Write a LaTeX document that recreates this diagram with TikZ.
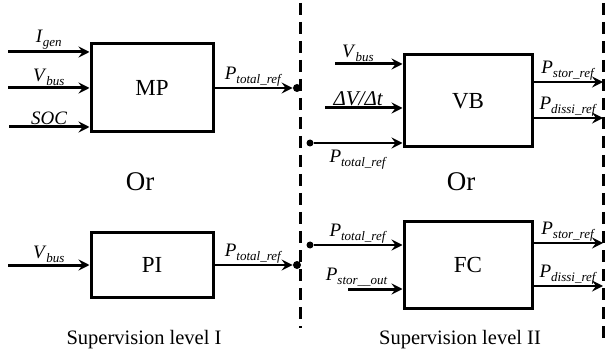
\documentclass[tikz,border=0pt]{standalone}
\usepackage{fontspec}
\setmainfont{Liberation Serif}
\usetikzlibrary{arrows.meta}
\newcommand{\sig}[2]{\textit{#1}\raisebox{-4pt}{\fontsize{13}{14}\selectfont\textit{#2}}}
\begin{document}
\begin{tikzpicture}[x=1pt, y=-1pt, thick,
  box/.style={draw, line width=3pt, minimum width=128pt, inner sep=0pt, font=\fontsize{23}{26}\selectfont},
  lbl/.style={font=\fontsize{19}{21}\selectfont, inner sep=1pt},
  fat/.style={line width=3pt, -{Stealth[length=11pt, width=11pt, inset=4pt]}},
  slim/.style={line width=2pt, -{Stealth[length=11pt, width=11pt, inset=4pt]}},
  sep/.style={line width=3pt, dash pattern=on 12pt off 7pt},
  dot/.style={circle, fill, inner sep=0pt, minimum size=#1},
  dot/.default=8pt]
\useasboundingbox (0,0) rectangle (605,358);
\coordinate (S_0_0) at (300,3);
\coordinate (S_0_1) at (300,328);
\draw[sep] (S_0_0) -- (S_0_1);
\coordinate (S_1_0) at (603,3);
\coordinate (S_1_1) at (603,340);
\draw[sep] (S_1_0) -- (S_1_1);
\node[box, minimum width=122pt, minimum height=88pt] (MP) at (152,88) {MP};
\coordinate (I_0_0) at (8,52);
\draw[fat] (I_0_0) -- (I_0_0 -| MP.west) node[lbl, midway, above] {\sig{I}{gen}};
\coordinate (I_0_1) at (8,88);
\draw[fat] (I_0_1) -- (I_0_1 -| MP.west) node[lbl, midway, above] {\sig{V}{bus}};
\coordinate (I_0_2) at (9,127);
\draw[fat] (I_0_2) -- (I_0_2 -| MP.west) node[lbl, midway, above] {\textit{SOC}};
\node[dot] (D_0) at (297,88) {};
\draw[slim] (MP.east) -- (D_0.west) node[lbl, midway, above] {\sig{P}{total\_ref}};
\node[font=\fontsize{27}{29}\selectfont] (Or_0) at (140,182) {Or};
\node[box, minimum width=122pt, minimum height=64pt] (PI) at (152,265) {PI};
\coordinate (I_1_0) at (8,265);
\draw[fat] (I_1_0) -- (PI.west) node[lbl, midway, above] {\sig{V}{bus}};
\node[dot] (D_1) at (297,265) {};
\draw[slim] (PI.east) -- (D_1.west) node[lbl, midway, above] {\sig{P}{total\_ref}};
\node[font=\fontsize{20.5}{22}\selectfont] (L_0) at (144,340) {Supervision level I};
\node[box, minimum height=92pt] (VB) at (468,101) {VB};
\coordinate (I_2_0) at (335,64);
\draw[fat] (I_2_0) -- (I_2_0 -| VB.west) node[lbl, pos=0.34, above] {\sig{V}{bus}};
\coordinate (I_2_1) at (325,108);
\draw[fat] (I_2_1) -- (I_2_1 -| VB.west) node[lbl, pos=0.43, above, font=\fontsize{21}{23}\selectfont] {\textit{ΔV/Δt}};
\node[dot=7pt] (D_2) at (310,143) {};
\draw[slim] (D_2) -- (D_2 -| VB.west) node[lbl, midway, below, inner sep=6pt] {\sig{P}{total\_ref}};
\coordinate (O_2_0) at (603,82);
\draw[slim] (O_2_0 -| VB.east) -- (O_2_0) node[lbl, midway, above] {\sig{P}{stor\_ref}};
\coordinate (O_2_1) at (603,118);
\draw[slim] (O_2_1 -| VB.east) -- (O_2_1) node[lbl, midway, above] {\sig{P}{dissi\_ref}};
\node[font=\fontsize{27}{29}\selectfont] (Or_1) at (461,182) {Or};
\node[box, minimum height=86pt] (FC) at (468,265) {FC};
\node[dot=7pt] (D_3) at (310,245) {};
\draw[slim] (D_3) -- (D_3 -| FC.west) node[lbl, midway, above] {\sig{P}{total\_ref}};
\coordinate (I_3_1) at (348,289);
\draw[fat] (I_3_1) -- (I_3_1 -| FC.west) node[lbl, pos=0.16, above] {\sig{P}{stor\_\_out}};
\coordinate (O_3_0) at (603,243);
\draw[slim] (O_3_0 -| FC.east) -- (O_3_0) node[lbl, midway, above] {\sig{P}{stor\_ref}};
\coordinate (O_3_1) at (603,286);
\draw[slim] (O_3_1 -| FC.east) -- (O_3_1) node[lbl, midway, above] {\sig{P}{dissi\_ref}};
\node[font=\fontsize{20.5}{22}\selectfont] (L_1) at (460,340) {Supervision level II};
\end{tikzpicture}
\end{document}
